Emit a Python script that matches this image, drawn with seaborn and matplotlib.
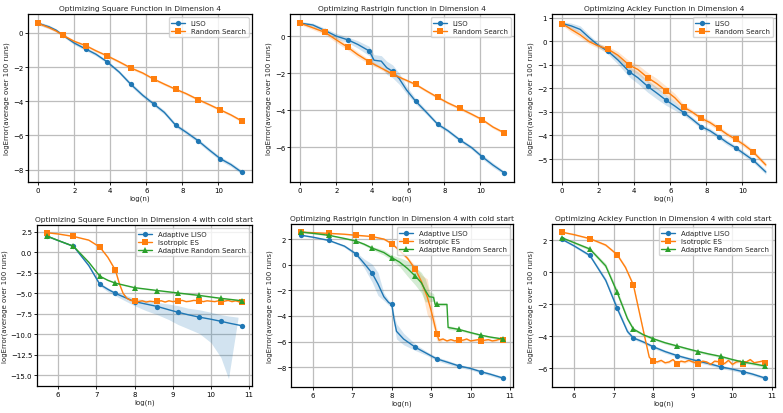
import numpy as np
import matplotlib
matplotlib.use("Agg")
import matplotlib.pyplot as plt
import seaborn as sns

# ---- data ----
top_marks = [0, 1.38, 2.64, 3.83, 5.13, 6.4, 7.63, 8.87, 10.1, 11.3]
ack_marks = [0, 2.53, 3.73, 4.75, 5.76, 6.75, 7.71, 8.69, 9.64, 10.6]
cold_marks = [5.7, 6.4, 7.09, 7.5, 8.0, 8.6, 9.14, 9.7, 10.26, 10.82]

# Square, dim 4
sq_x = [0, 0.6, 1.0, 1.38, 2.0, 2.64, 3.2, 3.83, 4.5, 5.13, 5.8, 6.4, 7.0, 7.63, 8.2, 8.87, 9.5, 10.1, 10.7, 11.3]
sq_liso = [0.55, 0.35, 0.15, -0.15, -0.6, -0.95, -1.25, -1.7, -2.3, -3.0, -3.65, -4.15, -4.65, -5.4, -5.8, -6.3, -6.85, -7.35, -7.7, -8.15]
sq_liso_sd = [0.1, 0.1, 0.08, 0.08, 0.1, 0.1, 0.1, 0.1, 0.1, 0.12, 0.12, 0.12, 0.12, 0.12, 0.12, 0.12, 0.12, 0.12, 0.12, 0.12]
sq_rs = [0.55, 0.3, 0.1, -0.15, -0.5, -0.75, -1.05, -1.35, -1.7, -2.05, -2.35, -2.7, -3.0, -3.3, -3.55, -3.9, -4.2, -4.5, -4.8, -5.15]
sq_rs_sd = [0.08, 0.08, 0.08, 0.08, 0.08, 0.08, 0.08, 0.08, 0.08, 0.08, 0.08, 0.08, 0.08, 0.08, 0.08, 0.08, 0.08, 0.08, 0.08, 0.08]

# Rastrigin, dim 4
ra_liso_x = [0, 0.7, 1.38, 2.0, 2.64, 3.2, 3.83, 4.1, 4.5, 4.8, 5.13, 5.5, 5.9, 6.4, 7.0, 7.63, 8.2, 8.87, 9.5, 10.1, 10.7, 11.3]
ra_liso = [0.7, 0.6, 0.3, 0.0, -0.2, -0.45, -0.8, -1.3, -1.35, -1.7, -1.9, -2.3, -2.9, -3.5, -4.1, -4.75, -5.1, -5.6, -6.0, -6.5, -6.95, -7.35]
ra_liso_sd = [0.08, 0.1, 0.12, 0.15, 0.15, 0.2, 0.25, 0.3, 0.3, 0.35, 0.35, 0.3, 0.2, 0.15, 0.12, 0.1, 0.1, 0.1, 0.1, 0.12, 0.12, 0.1]
ra_rs_x = [0, 0.7, 1.38, 2.0, 2.64, 3.2, 3.83, 4.45, 5.13, 5.7, 6.4, 7.0, 7.63, 8.2, 8.87, 9.5, 10.1, 10.7, 11.3]
ra_rs = [0.7, 0.45, 0.2, -0.2, -0.6, -1.0, -1.38, -1.7, -2.05, -2.3, -2.6, -2.95, -3.3, -3.6, -3.9, -4.2, -4.5, -4.9, -5.2]
ra_rs_sd = [0.08, 0.1, 0.12, 0.15, 0.15, 0.15, 0.12, 0.1, 0.1, 0.08, 0.08, 0.08, 0.08, 0.08, 0.08, 0.08, 0.08, 0.08, 0.08]

# Ackley, dim 4
ack_x = [0, 0.5, 1.0, 1.5, 2.0, 2.53, 3.1, 3.73, 4.2, 4.75, 5.25, 5.76, 6.25, 6.75, 7.2, 7.71, 8.2, 8.69, 9.15, 9.64, 10.1, 10.6, 11.3]
ack_liso = [0.75, 0.65, 0.5, 0.15, -0.17, -0.42, -0.8, -1.3, -1.55, -1.92, -2.2, -2.5, -2.75, -3.03, -3.3, -3.62, -3.8, -4.05, -4.3, -4.53, -4.78, -5.05, -5.55]
ack_liso_sd = [0.08, 0.12, 0.15, 0.12, 0.1, 0.12, 0.18, 0.22, 0.25, 0.25, 0.25, 0.22, 0.18, 0.12, 0.1, 0.1, 0.1, 0.1, 0.1, 0.1, 0.1, 0.1, 0.1]
ack_rs = [0.75, 0.5, 0.27, -0.02, -0.2, -0.33, -0.6, -1.02, -1.2, -1.55, -1.8, -2.1, -2.4, -2.8, -3.0, -3.27, -3.45, -3.7, -3.95, -4.17, -4.4, -4.7, -5.25]
ack_rs_sd = [0.08, 0.12, 0.12, 0.1, 0.1, 0.12, 0.15, 0.18, 0.2, 0.22, 0.22, 0.2, 0.18, 0.12, 0.1, 0.1, 0.1, 0.1, 0.1, 0.1, 0.1, 0.1, 0.1]

# Square, cold start
sqc_liso_x = [5.7, 6.0, 6.4, 6.8, 7.09, 7.3, 7.5, 7.75, 8.0, 8.3, 8.6, 8.9, 9.14, 9.4, 9.7, 10.0, 10.26, 10.5, 10.82]
sqc_liso = [2.0, 1.45, 0.75, -1.6, -3.9, -4.5, -5.0, -5.5, -6.0, -6.3, -6.6, -7.0, -7.3, -7.6, -7.9, -8.15, -8.4, -8.65, -8.95]
sqc_band_x = [5.7, 6.0, 6.4, 6.8, 7.09, 7.3, 7.5, 7.75, 8.0, 8.3, 8.6, 8.9, 9.14, 9.4, 9.7, 10.0, 10.26, 10.46, 10.71]
sqc_band_lo = [1.9, 1.35, 0.65, -1.8, -4.1, -4.8, -5.3, -5.9, -6.5, -7.1, -7.6, -8.2, -8.8, -9.3, -9.9, -11.0, -12.8, -15.4, -8.0]
sqc_band_hi = [2.1, 1.55, 0.85, -1.4, -3.7, -4.3, -4.8, -5.2, -5.6, -5.8, -6.1, -6.3, -6.5, -6.8, -7.0, -7.3, -7.6, -7.75, -7.9]
sqc_es_x = [5.7, 6.0, 6.4, 6.8, 7.09, 7.3, 7.5, 7.6, 7.7, 7.8, 7.9, 8.0,
            8.1, 8.2, 8.3, 8.4, 8.5, 8.6, 8.7, 8.8, 8.9, 9.0, 9.14, 9.25, 9.35, 9.45,
            9.55, 9.7, 9.8, 9.9, 10.0, 10.1, 10.2, 10.26, 10.35, 10.45, 10.55, 10.65, 10.75, 10.82]
sqc_es = [2.4, 2.25, 1.95, 1.5, 0.65, -0.6, -2.2, -3.8, -5.0, -5.6, -5.85, -5.9,
          -6.0, -5.9, -6.05, -5.95, -6.0, -5.95, -5.9, -6.05, -5.9, -6.0, -5.9, -5.85, -6.0, -5.95,
          -5.85, -5.9, -6.0, -5.9, -5.95, -6.0, -5.9, -6.0, -5.95, -5.85, -6.0, -5.9, -6.05, -6.0]
sqc_es_sd = [0.05, 0.05, 0.05, 0.08, 0.1, 0.15, 0.2, 0.2, 0.15, 0.1, 0.08, 0.05,
             0.05, 0.05, 0.05, 0.05, 0.05, 0.05, 0.05, 0.05, 0.05, 0.05, 0.05, 0.05, 0.05, 0.05,
             0.05, 0.05, 0.05, 0.05, 0.05, 0.05, 0.05, 0.05, 0.05, 0.05, 0.05, 0.05, 0.05, 0.05]
sqc_ars_x = [5.7, 6.0, 6.4, 6.8, 7.09, 7.3, 7.5, 8.0, 8.6, 9.14, 9.7, 10.26, 10.82]
sqc_ars = [2.0, 1.45, 0.75, -1.2, -2.9, -3.4, -3.75, -4.3, -4.65, -4.95, -5.25, -5.6, -5.9]
sqc_ars_sd = [0.05, 0.05, 0.05, 0.08, 0.1, 0.08, 0.08, 0.08, 0.08, 0.08, 0.08, 0.08, 0.08]

# Rastrigin, cold start
rac_liso_x = [5.7, 6.0, 6.4, 6.8, 7.09, 7.3, 7.5, 7.65, 7.8, 7.92, 8.0, 8.06, 8.12, 8.3, 8.6, 8.9, 9.14, 9.4, 9.7, 10.0, 10.26, 10.5, 10.82]
rac_liso = [2.3, 2.15, 1.9, 1.45, 0.85, 0.1, -0.65, -1.5, -2.5, -2.95, -3.1, -4.3, -5.2, -5.8, -6.45, -6.95, -7.35, -7.6, -7.9, -8.1, -8.35, -8.55, -8.85]
rac_liso_sd = [0.05, 0.05, 0.05, 0.1, 0.15, 0.35, 0.7, 0.9, 0.3, 0.2, 0.15, 0.4, 0.6, 0.45, 0.25, 0.15, 0.15, 0.15, 0.12, 0.12, 0.12, 0.12, 0.12]
rac_es_x = [5.7, 6.0, 6.4, 6.8, 7.09, 7.3, 7.5, 7.8, 8.0, 8.2, 8.4, 8.6, 8.75, 8.9, 9.0, 9.08,
            9.14, 9.2, 9.3, 9.4, 9.5, 9.6, 9.7, 9.8, 9.9, 10.0, 10.1, 10.2, 10.26, 10.35, 10.45,
            10.55, 10.65, 10.75, 10.82]
rac_es = [2.55, 2.5, 2.45, 2.38, 2.3, 2.25, 2.2, 2.0, 1.65, 1.1, 0.5, -0.35, -1.3, -2.5, -3.6, -4.6,
          -5.4, -5.9, -5.8, -5.95, -5.85, -5.95, -5.85, -5.9, -5.8, -5.95, -5.9, -5.85, -5.95, -5.9, -5.85,
          -5.95, -5.9, -5.8, -5.85]
rac_es_sd = [0.05, 0.05, 0.05, 0.05, 0.05, 0.05, 0.05, 0.08, 0.1, 0.12, 0.15, 0.25, 0.5, 1.4, 0.8, 0.5,
             0.5, 0.2, 0.08, 0.08, 0.08, 0.08, 0.08, 0.08, 0.08, 0.08, 0.08, 0.08, 0.08, 0.08, 0.08,
             0.08, 0.08, 0.08, 0.08]
rac_ars_x = [5.7, 6.0, 6.4, 6.8, 7.09, 7.3, 7.5, 7.8, 8.0, 8.2, 8.4, 8.6, 8.75, 8.85, 8.95, 9.06,
             9.1, 9.14, 9.3, 9.4, 9.43, 9.7, 10.0, 10.26, 10.5, 10.82]
rac_ars = [2.55, 2.45, 2.3, 2.05, 1.85, 1.6, 1.3, 0.95, 0.55, 0.2, -0.3, -0.9, -1.4, -2.0, -2.5, -2.55,
           -3.1, -3.1, -3.1, -3.1, -4.9, -5.05, -5.3, -5.5, -5.65, -5.8]
rac_ars_sd = [0.05, 0.05, 0.05, 0.05, 0.08, 0.1, 0.12, 0.2, 0.2, 0.35, 0.6, 0.7, 0.8, 0.9, 0.4, 0.3,
              0.15, 0.1, 0.1, 0.1, 0.15, 0.1, 0.08, 0.08, 0.08, 0.08]

# Ackley, cold start
ac_x = [5.7, 6.0, 6.4, 6.8, 7.09, 7.35, 7.5, 7.75, 8.0, 8.3, 8.6, 8.9, 9.14, 9.4, 9.7, 10.0, 10.26, 10.5, 10.82]
ac_liso = [2.05, 1.65, 1.05, -0.5, -2.25, -3.7, -4.1, -4.35, -4.65, -4.95, -5.2, -5.4, -5.55, -5.7, -5.9, -6.05, -6.2, -6.35, -6.6]
ac_liso_sd = [0.05, 0.08, 0.1, 0.15, 0.2, 0.15, 0.1, 0.1, 0.1, 0.1, 0.1, 0.1, 0.1, 0.1, 0.1, 0.1, 0.1, 0.1, 0.1]
ac_ars = [2.15, 1.85, 1.45, 0.4, -1.25, -2.9, -3.55, -3.9, -4.15, -4.4, -4.6, -4.8, -4.95, -5.1, -5.25, -5.45, -5.6, -5.7, -5.85]
ac_ars_sd = [0.05, 0.08, 0.1, 0.15, 0.2, 0.15, 0.1, 0.08, 0.08, 0.08, 0.08, 0.08, 0.08, 0.08, 0.08, 0.08, 0.08, 0.08, 0.08]
ac_es_x = [5.7, 6.0, 6.4, 6.8, 7.09, 7.3, 7.5, 7.65, 7.8, 7.9,
           8.0, 8.1, 8.2, 8.3, 8.4, 8.5, 8.6, 8.7, 8.8, 8.9, 9.0,
           9.14, 9.25, 9.35, 9.45, 9.55, 9.7, 9.8, 9.9, 10.0, 10.1, 10.2,
           10.26, 10.35, 10.45, 10.55, 10.65, 10.75, 10.82]
ac_es = [2.5, 2.35, 2.1, 1.7, 1.1, 0.3, -0.8, -2.5, -4.2, -5.3,
         -5.55, -5.6, -5.5, -5.65, -5.6, -5.45, -5.7, -5.55, -5.6, -5.5, -5.6,
         -5.7, -5.55, -5.6, -5.75, -5.55, -5.6, -5.7, -5.5, -5.75, -5.6, -5.55,
         -5.75, -5.6, -5.45, -5.65, -5.6, -5.55, -5.65]
ac_es_sd = [0.05, 0.05, 0.05, 0.08, 0.1, 0.12, 0.12, 0.12, 0.1, 0.08,
            0.08, 0.08, 0.08, 0.08, 0.08, 0.08, 0.08, 0.08, 0.08, 0.08, 0.08,
            0.08, 0.08, 0.08, 0.08, 0.08, 0.08, 0.08, 0.08, 0.08, 0.08, 0.08,
            0.08, 0.08, 0.08, 0.08, 0.08, 0.08, 0.08]

BLUE, ORANGE, GREEN = "#1f77b4", "#ff7f0e", "#2ca02c"

# ---- style ----
sns.set_style("whitegrid", {
    "axes.edgecolor": "black",
    "grid.color": "#bdbdbd",
    "xtick.bottom": True,
    "ytick.left": True,
})
plt.rcParams.update({
    "font.family": ["DejaVu Sans"],
    "axes.linewidth": 0.9,
    "grid.linewidth": 0.9,
    "xtick.major.size": 2,
    "ytick.major.size": 2,
    "xtick.major.width": 0.6,
    "ytick.major.width": 0.6,
    "xtick.color": "black",
    "ytick.color": "black",
    "xtick.labelsize": 5,
    "ytick.labelsize": 5,
    "axes.labelsize": 5,
    "axes.titlesize": 5.4,
    "legend.fontsize": 5,
})


def draw(ax, x, y, sd, color, marker, label, marks, band=True):
    x = np.asarray(x, dtype=float)
    y = np.asarray(y, dtype=float)
    idx = [int(np.argmin(np.abs(x - m))) for m in marks]
    sns.lineplot(x=x, y=y, ax=ax, color=color, marker=marker, markevery=idx,
                 markersize=3.8, markeredgewidth=0, linewidth=1.0,
                 label=label, errorbar=None, sort=False)
    if band:
        sd = np.asarray(sd, dtype=float)
        ax.fill_between(x, y - sd, y + sd, color=color, alpha=0.2, linewidth=0)


def finish(ax, title):
    ax.set_title(title, pad=3)
    ax.set_xlabel("log(n)", labelpad=1)
    ax.set_ylabel("logError(average over 100 runs)", labelpad=2)
    ax.tick_params(pad=1.5)
    leg = ax.legend(loc="upper right", frameon=True, fancybox=True,
                    handlelength=2.0, borderpad=0.4, labelspacing=0.3)
    leg.get_frame().set_edgecolor("#cccccc")
    for s in ax.spines.values():
        s.set_color("black")


W, H = 783, 414
fig = plt.figure(figsize=(W / 100, H / 100), dpi=100)


def box(l, t, r, b):
    return [l / W, 1 - b / H, (r - l) / W, (b - t) / H]


ax1 = fig.add_axes(box(28, 15, 252, 183))
ax2 = fig.add_axes(box(290, 15, 514, 183))
ax3 = fig.add_axes(box(552, 15, 776, 183))
ax4 = fig.add_axes(box(37, 226, 252, 387))
ax5 = fig.add_axes(box(291, 225, 513, 388))
ax6 = fig.add_axes(box(552, 225, 775, 388))

draw(ax1, sq_x, sq_liso, sq_liso_sd, BLUE, "o", "LISO", top_marks)
draw(ax1, sq_x, sq_rs, sq_rs_sd, ORANGE, "s", "Random Search", top_marks)
finish(ax1, "Optimizing Square Function in Dimension 4")
ax1.set_xticks([0, 2, 4, 6, 8, 10])

draw(ax2, ra_liso_x, ra_liso, ra_liso_sd, BLUE, "o", "LISO", top_marks)
draw(ax2, ra_rs_x, ra_rs, ra_rs_sd, ORANGE, "s", "Random Search", top_marks)
finish(ax2, "Optimizing Rastrigin function in Dimension 4")
ax2.set_xticks([0, 2, 4, 6, 8, 10])

draw(ax3, ack_x, ack_liso, ack_liso_sd, BLUE, "o", "LISO", ack_marks)
draw(ax3, ack_x, ack_rs, ack_rs_sd, ORANGE, "s", "Random Search", ack_marks)
finish(ax3, "Optimizing Ackley Function in Dimension 4")
ax3.set_xticks([0, 2, 4, 6, 8, 10])

draw(ax4, sqc_liso_x, sqc_liso, None, BLUE, "o", "Adaptive LISO", cold_marks, band=False)
ax4.fill_between(sqc_band_x, sqc_band_lo, sqc_band_hi, color=BLUE, alpha=0.2, linewidth=0)
draw(ax4, sqc_es_x, sqc_es, sqc_es_sd, ORANGE, "s", "Isotropic ES", cold_marks)
draw(ax4, sqc_ars_x, sqc_ars, sqc_ars_sd, GREEN, "^", "Adaptive Random Search", cold_marks)
finish(ax4, "Optimizing Square Function in Dimension 4 with cold start")

draw(ax5, rac_liso_x, rac_liso, rac_liso_sd, BLUE, "o", "Adaptive LISO", cold_marks)
draw(ax5, rac_es_x, rac_es, rac_es_sd, ORANGE, "s", "Isotropic ES", cold_marks)
draw(ax5, rac_ars_x, rac_ars, rac_ars_sd, GREEN, "^", "Adaptive Random Search", cold_marks)
finish(ax5, "Optimizing Rastrigin function in Dimension 4 with cold start")

draw(ax6, ac_x, ac_liso, ac_liso_sd, BLUE, "o", "Adaptive LISO", cold_marks)
draw(ax6, ac_es_x, ac_es, ac_es_sd, ORANGE, "s", "Isotropic ES", cold_marks)
draw(ax6, ac_x, ac_ars, ac_ars_sd, GREEN, "^", "Adaptive Random Search", cold_marks)
finish(ax6, "Optimizing Ackley Function in Dimension 4 with cold start")

for ax in (ax4, ax5, ax6):
    ax.set_xticks([6, 7, 8, 9, 10, 11])

fig.savefig("out.png", dpi=100, facecolor="white")
